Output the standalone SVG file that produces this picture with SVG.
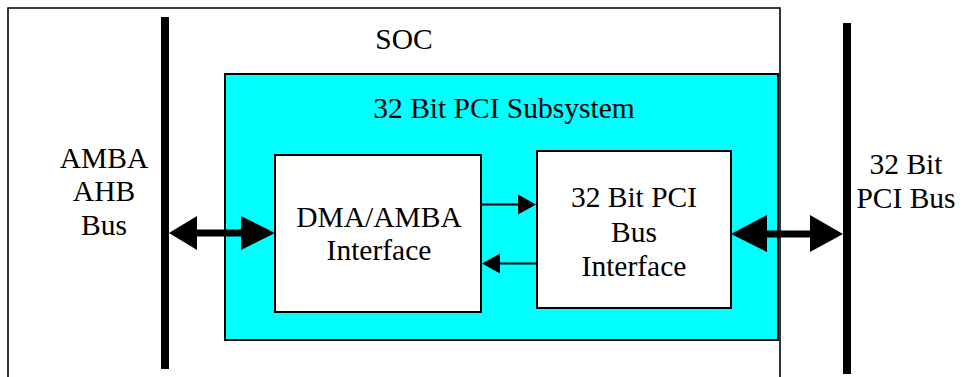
<svg xmlns="http://www.w3.org/2000/svg" width="962" height="377" viewBox="0 0 962 377">
  <style>
    .lbl { font-family: "Liberation Serif", "Times New Roman", serif; font-size: 29.5px; fill: #000; text-anchor: middle; }
    .box { fill: #fff; stroke: #000; stroke-width: 2; }
    .bus { fill: #000; }
    .thin { stroke: #000; stroke-width: 2; fill: none; }
  </style>

  <!-- SOC outline (open at the bottom) -->
  <g id="soc">
    <path d="M8 377 V8 H780 V377" fill="#fff" stroke="#000" stroke-width="1.6"/>
    <text class="lbl" x="404" y="49">SOC</text>
  </g>

  <!-- AMBA AHB bus bar -->
  <g id="amba-bus">
    <rect class="bus" x="161" y="17" width="8" height="352"/>
    <text class="lbl" x="104" y="168">AMBA</text>
    <text class="lbl" x="104" y="201">AHB</text>
    <text class="lbl" x="104" y="235">Bus</text>
  </g>

  <!-- PCI bus bar -->
  <g id="pci-bus">
    <rect class="bus" x="843" y="23" width="8" height="351"/>
    <text class="lbl" x="906" y="174">32 Bit</text>
    <text class="lbl" x="906" y="208">PCI Bus</text>
  </g>

  <!-- PCI subsystem container -->
  <g id="pci-subsystem">
    <rect x="225" y="74" width="553" height="266" fill="#00ffff" stroke="#000" stroke-width="2"/>
    <text class="lbl" x="504" y="118">32 Bit PCI Subsystem</text>
  </g>

  <g id="dma-amba">
    <rect class="box" x="275" y="155" width="206" height="157"/>
    <text class="lbl" x="379" y="227">DMA/AMBA</text>
    <text class="lbl" x="379" y="260">Interface</text>
  </g>

  <g id="pci-interface">
    <rect class="box" x="537" y="151" width="194" height="157"/>
    <text class="lbl" x="634" y="207">32 Bit PCI</text>
    <text class="lbl" x="634" y="242">Bus</text>
    <text class="lbl" x="634" y="276">Interface</text>
  </g>

  <!-- connectors -->
  <g id="connectors">
    <!-- AHB bus <-> DMA/AMBA -->
    <rect x="196" y="229.5" width="46" height="7" fill="#000"/>
    <polygon points="169,233 197,216 197,250" fill="#000"/>
    <polygon points="275,233 241,216 241,250" fill="#000"/>
    <!-- PCI interface <-> PCI bus -->
    <rect x="766" y="230.5" width="46" height="7" fill="#000"/>
    <polygon points="731,234 767,215 767,252" fill="#000"/>
    <polygon points="843,234 810,215 810,252" fill="#000"/>
    <!-- DMA -> PCI -->
    <line class="thin" x1="481" y1="204.5" x2="520" y2="204.5"/>
    <polygon points="536,204.5 518,194.5 518,214.5" fill="#000"/>
    <!-- PCI -> DMA -->
    <line class="thin" x1="498" y1="263.5" x2="537" y2="263.5"/>
    <polygon points="482,263.5 500,253.5 500,273.5" fill="#000"/>
  </g>
</svg>
